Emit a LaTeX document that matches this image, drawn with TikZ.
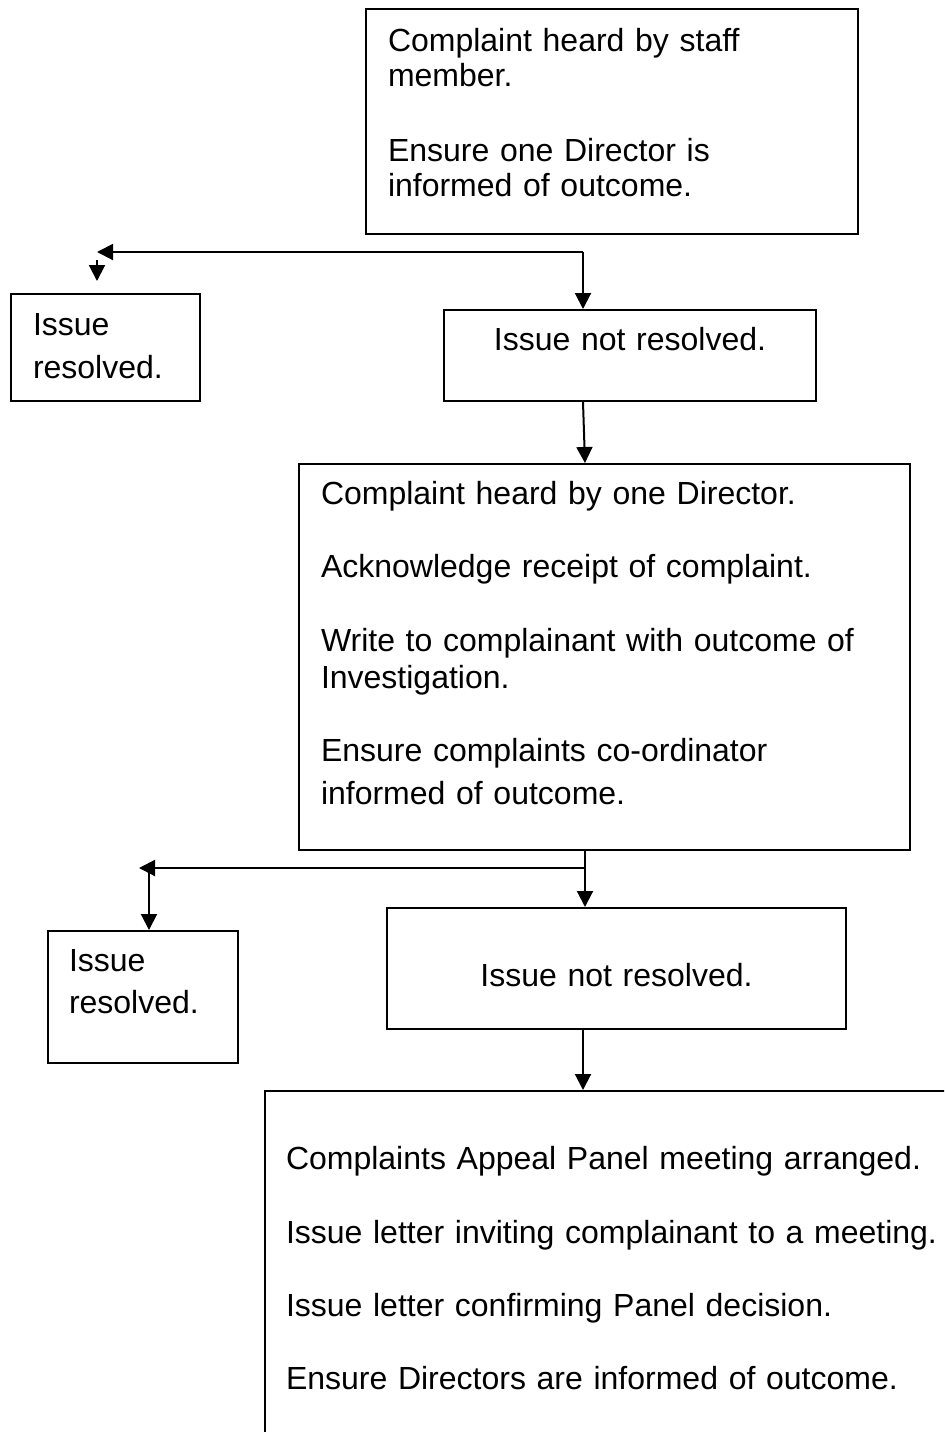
\documentclass[tikz,border=0pt]{standalone}
\usepackage{fontspec}
\setmainfont{Liberation Sans}
\usetikzlibrary{arrows.meta}

\begin{document}
\begin{tikzpicture}[x=0.5pt, y=-0.5pt,
  box/.style={draw, line width=1pt, anchor=north west, inner xsep=11pt, inner ysep=0pt,
    align=left, font=\fontsize{16pt}{17.5pt}\selectfont},
  flow/.style={line width=1pt, -{Triangle[width=8pt,length=8pt]}}]
\useasboundingbox (0,0) rectangle (944,1432);
\clip (0,0) rectangle (944,1432);

\node[box, text width=224pt, text height=21pt, text depth=91.5pt] (staff) at (365,8)
  {Complaint heard by staff\\ member.\\[20pt] Ensure one Director is\\ informed of outcome.};
\node[box, text width=72.5pt, text height=20.5pt, text depth=33pt] (resolvedA) at (10,293)
  {Issue\\[4pt] resolved.};
\node[box, align=center, text width=164pt, text height=20pt, text depth=25.5pt] (notresolvedA) at (443,309)
  {Issue not resolved.};
\node[box, text width=283.5pt, text height=20pt, text depth=173pt] (director) at (298,463)
  {Complaint heard by one Director.\\[19pt]
   Acknowledge receipt of complaint.\\[19.5pt]
   Write to complainant with outcome of\\[1pt] Investigation.\\[19pt]
   Ensure complaints co-ordinator\\[4pt] informed of outcome.};
\node[box, inner xsep=10.5pt, text width=74pt, text height=20pt, text depth=46pt] (resolvedB) at (47,930)
  {Issue\\[3.5pt] resolved.};
\node[box, align=center, text width=207.5pt, text height=39pt, text depth=21.5pt] (notresolvedB) at (386,907)
  {Issue not resolved.};
\node[box, inner xsep=10.5pt, text width=347pt, text height=39pt, text depth=166pt] (panel) at (264,1090)
  {Complaints Appeal Panel meeting arranged.\\[19.5pt]
   Issue letter inviting complainant to a meeting.\\[19pt]
   Issue letter confirming Panel decision.\\[19pt]
   Ensure Directors are informed of outcome.};

\coordinate (splitA) at (583,252);
\coordinate (tipA) at (97,252);
\coordinate (dropA) at (97,260);
\coordinate (splitB) at (585,868);
\coordinate (tipB) at (139,868);
\coordinate (dropB) at (149,868);

\draw[flow] (splitA) -- (tipA);
\draw[flow, shorten >=6pt] (dropA) -- (resolvedA.north -| dropA);
\draw[flow] (splitA) -- (notresolvedA.north -| splitA);
\draw[flow] (notresolvedA.south -| splitA) -- (director.north -| splitB);
\draw[flow] (director.south -| splitB) -- (notresolvedB.north -| splitB);
\draw[flow] (splitB) -- (tipB);
\draw[flow] (dropB) -- (resolvedB.north -| dropB);
\draw[flow] (notresolvedB.south -| splitA) -- (panel.north -| splitA);

\end{tikzpicture}
\end{document}
